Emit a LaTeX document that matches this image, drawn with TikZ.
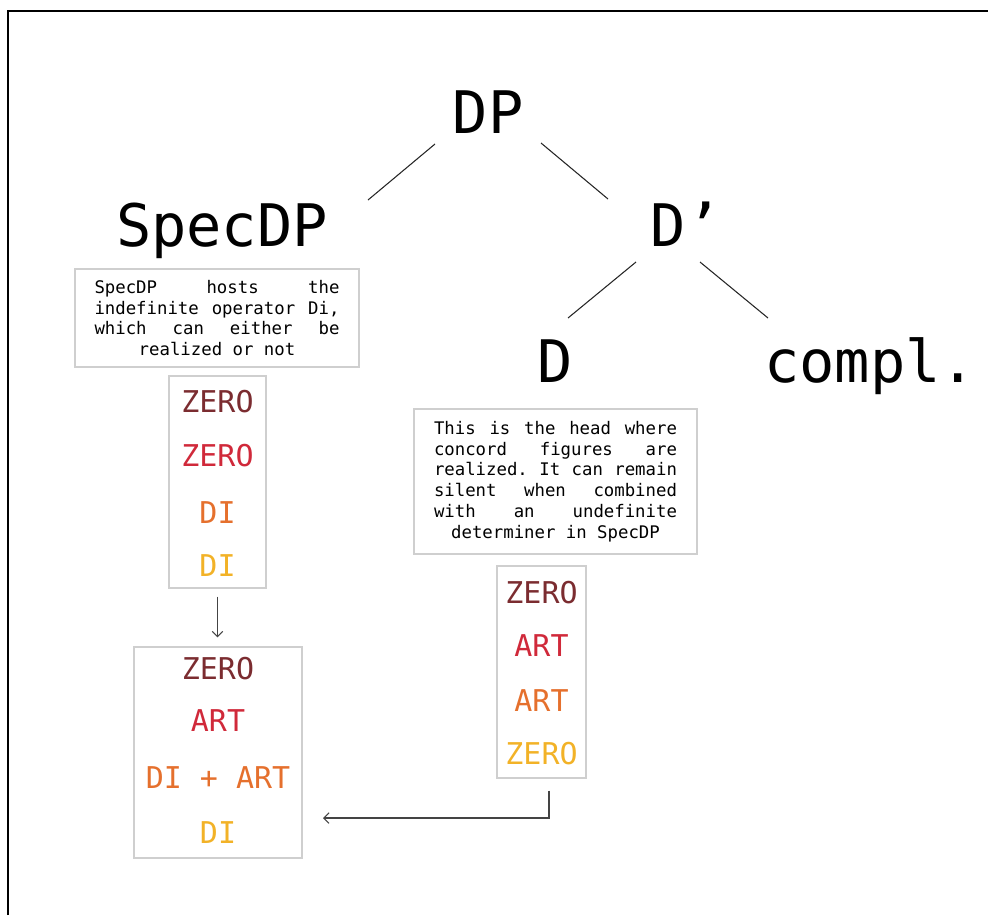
\documentclass[tikz,border=0pt]{standalone}
\usepackage{fontspec}
\setmainfont{DejaVu Sans Mono}
\usetikzlibrary{arrows.meta}
\definecolor{cA}{HTML}{7B2C30}
\definecolor{cB}{HTML}{D0293A}
\definecolor{cC}{HTML}{E5702D}
\definecolor{cD}{HTML}{F2B227}
\definecolor{boxgray}{HTML}{CFCFCF}
\definecolor{arrgray}{HTML}{444444}
\begin{document}
\begin{tikzpicture}[x=0.75pt,y=-0.75pt,
  tree/.style={font=\fontsize{44}{50}\selectfont, inner sep=0, anchor=base},
  branch/.style={draw=black!85, line width=0.8pt},
  note/.style={draw=boxgray, line width=0.8pt, inner sep=0, align=center},
  colbox/.style={draw=boxgray, line width=0.8pt, inner sep=0},
  item/.style={font=\fontsize{22.5}{27}\selectfont, inner sep=0, anchor=base},
  conn/.style={draw=arrgray, line width=0.8pt, -{Straight Barb[length=4pt,width=8pt]}}
]
\useasboundingbox (0,0) rectangle (988,915);
\draw[line width=1.6pt] (8,915) -- (8,11) -- (988,11);

% tree labels
\node[tree] (dp) at (488,133) {DP};
\node[tree] (spec) at (222,246) {SpecDP};
\node[tree] (dbar) at (686,246) {D’};
\node[tree] (d) at (555,382) {D};
\node[tree] (compl) at (870,382) {compl.};

% branches
\draw[branch] ([shift={(-53,11)}]dp.base) -- ([shift={(146,-46)}]spec.base);
\draw[branch] ([shift={(53,10)}]dp.base) -- ([shift={(-78,-47)}]dbar.base);
\draw[branch] ([shift={(-50,16)}]dbar.base) -- ([shift={(13,-64)}]d.base);
\draw[branch] ([shift={(14,16)}]dbar.base) -- ([shift={(-102,-64)}]compl.base);

% notes
\node[note, minimum width=213pt, minimum height=73.5pt,
      font=\fontsize{13}{15.4}\selectfont] (specnote) at (217,318) {%
  \makebox[183.75pt]{SpecDP\hfill hosts\hfill the}\\
  \makebox[183.75pt]{indefinite\hfill operator\hfill Di,}\\
  \makebox[183.75pt]{which\hfill can\hfill either\hfill be}\\
  realized or not};
\node[note, minimum width=212.25pt, minimum height=108.75pt,
      font=\fontsize{13}{15.6}\selectfont] (dnote) at (555.5,481.5) {%
  \makebox[182.25pt]{This\hfill is\hfill the\hfill head\hfill where}\\
  \makebox[182.25pt]{concord\hfill figures\hfill are}\\
  \makebox[182.25pt]{realized.\hfill It\hfill can\hfill remain}\\
  \makebox[182.25pt]{silent\hfill when\hfill combined}\\
  \makebox[182.25pt]{with\hfill an\hfill undefinite}\\
  determiner in SpecDP};

% column boxes
\node[colbox, minimum width=72.75pt, minimum height=159pt] (colA) at (217.5,482) {};
\node[item, text=cA] (a1) at (217.5,412) {ZERO};
\node[item, text=cB] (a2) at (217.5,466) {ZERO};
\node[item, text=cC] (a3) at (217.5,523) {DI};
\node[item, text=cD] (a4) at (217.5,576) {DI};

\node[colbox, minimum width=126pt, minimum height=158.25pt] (colB) at (218,752.5) {};
\node[item, text=cA] (b1) at (218,679) {ZERO};
\node[item, text=cB] (b2) at (218,731) {ART};
\node[item, text=cC] (b3) at (218,788) {DI + ART};
\node[item, text=cD] (b4) at (218,843) {DI};

\node[colbox, minimum width=66.75pt, minimum height=159pt] (colD) at (541.5,672) {};
\node[item, text=cA] (d1) at (541.5,603) {ZERO};
\node[item, text=cB] (d2) at (541.5,656) {ART};
\node[item, text=cC] (d3) at (541.5,711) {ART};
\node[item, text=cD] (d4) at (541.5,764) {ZERO};

% connectors
\draw[conn, shorten <=6pt, shorten >=6.75pt] (colA.south) -- (colA.south |- colB.north);
\coordinate (a2end) at (323,818);
\draw[conn] ([shift={(7.5,12)}]colD.south) |- (a2end);
\end{tikzpicture}
\end{document}
